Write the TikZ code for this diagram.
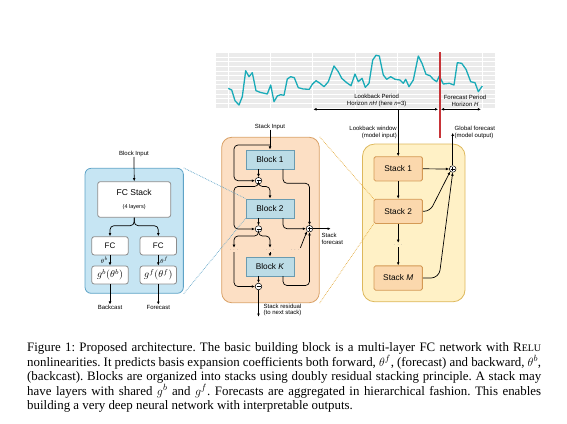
\documentclass[tikz,border=0pt]{standalone}
\usepackage{fontspec}
\setmainfont{Liberation Serif}
\newfontfamily\lsans{Liberation Sans}
\usetikzlibrary{arrows.meta}
\definecolor{bluecfill}{HTML}{C6E5F3}
\definecolor{bluecdraw}{HTML}{5EA3C7}
\definecolor{blkfill}{HTML}{BCDCE6}
\definecolor{blkdraw}{HTML}{6A9BB0}
\definecolor{orcfill}{HTML}{FCDFC4}
\definecolor{orcdraw}{HTML}{D9A065}
\definecolor{stkfill}{HTML}{FBD8AD}
\definecolor{stkdraw}{HTML}{D49A55}
\definecolor{yelfill}{HTML}{FFF1C6}
\definecolor{yeldraw}{HTML}{DDB85C}
\definecolor{yeldot}{HTML}{E3A93A}
\definecolor{tealc}{HTML}{1AABB8}
\definecolor{redvert}{rgb}{0.78,0.20,0.22}
\definecolor{chartbg}{HTML}{EBEBEB}
\begin{document}
\begin{tikzpicture}[x=1pt,y=-1pt,
  lbl/.style={font=\lsans\fontsize{6}{6.8}\selectfont, inner sep=0pt},
  arr/.style={-{Latex[length=3.2pt,width=2.8pt]}, line width=0.7pt},
  conn/.style={line width=0.7pt},
  bluecont/.style={draw=bluecdraw, fill=bluecfill, rounded corners=6pt, line width=0.8pt},
  whitebox/.style={draw=black!45, fill=white, rounded corners=2.5pt, line width=0.8pt, inner sep=0pt},
  bblock/.style={draw=blkdraw, fill=blkfill, line width=0.8pt, minimum width=48pt, minimum height=19pt, inner sep=0pt, font=\lsans\fontsize{8.3}{9}\selectfont},
  orcont/.style={draw=orcdraw, fill=orcfill, rounded corners=10pt, line width=0.8pt},
  ycont/.style={draw=yeldraw, fill=yelfill, rounded corners=12pt, line width=0.8pt},
  sbox/.style={draw=stkdraw, fill=stkfill, rounded corners=1.5pt, line width=0.8pt, minimum width=48.3pt, minimum height=24.3pt, inner sep=0pt, font=\lsans\fontsize{8.3}{9}\selectfont},
  dotsn/.style={font=\lsans\fontsize{6}{6}\selectfont, text=black!45, inner sep=0.5pt},
  minusc/.style={circle, draw, fill=white, inner sep=0pt, minimum size=6.6pt, line width=0.5pt,
    path picture={\draw[line width=0.5pt] ([xshift=-2pt]path picture bounding box.center) -- ([xshift=2pt]path picture bounding box.center);}},
  plusc/.style={circle, draw, fill=white, inner sep=0pt, minimum size=6.6pt, line width=0.5pt,
    path picture={\draw[line width=0.5pt] ([xshift=-2pt]path picture bounding box.center) -- ([xshift=2pt]path picture bounding box.center);
                  \draw[line width=0.5pt] ([yshift=-2pt]path picture bounding box.center) -- ([yshift=2pt]path picture bounding box.center);}},
]
\useasboundingbox (0,0) rectangle (567,423);

% ---------------- chart ----------------
\fill[chartbg] (216,52.7) rectangle (495,108.3);
\foreach \yy in {57,61.6,66.2,70.8,75.4,80,84.6,89.2,93.8,98.4,103}
  \draw[white, line width=0.6pt] (216,\yy) -- (495,\yy);
\foreach \xx in {228,270.3,312.6,354.9,397.2,481.8}
  \draw[white, line width=0.6pt] (\xx,52.7) -- (\xx,108.3);
\draw[tealc, line width=1.3pt, line join=round]
 (228.3,88.3) -- (231.7,90) -- (235,100.7) -- (239,105) -- (242.3,96.7) -- (245.7,70.7) -- (249,76.7) -- (252.3,72.7)
 -- (256,90.7) -- (260,92.3) -- (267.3,94) -- (270.7,85) -- (274,101.7) -- (277.3,96) -- (280.7,94.7) -- (284,95.3)
 -- (287.3,79) -- (290.7,76.7) -- (294.3,77.7) -- (298.3,87.7) -- (303.3,89) -- (309.3,89.3) -- (312.3,84.3) -- (316,80.7)
 -- (320,83.3) -- (324,86.7) -- (328.3,81.7) -- (334,66) -- (338.3,71.7) -- (341.7,78.3) -- (346.7,82.7) -- (351,85.7)
 -- (355,74) -- (358.3,81.7) -- (362,78.3) -- (365.3,87.3) -- (369,83.3) -- (372.7,60) -- (376,55.3) -- (379.3,56)
 -- (383.3,75) -- (386.7,79.3) -- (390.7,76.7) -- (395,79.3) -- (400,80) -- (403.3,83.3) -- (405.7,79.3) -- (409,86.7)
 -- (413.3,80) -- (418.3,56) -- (422,63.3) -- (426,74.3) -- (430,75.7) -- (433.3,79.3) -- (436.7,81.7) -- (439.3,76)
 -- (443.3,84) -- (449.3,83.3) -- (454,85) -- (457.3,62.7) -- (461.7,63.3) -- (466,69.3) -- (470.7,81.7) -- (475,82.7)
 -- (478.3,91.7) -- (482.3,86);
\node[lbl, align=center] (lbp) at (376.7,100.7) {Lookback Period\\Horizon \textit{nH} (here \textit{n}=3)};
\node[lbl, align=center] (fcp) at (465,100.7) {Forecast Period\\Horizon \textit{H}};
\coordinate (hl) at (313.3,109.3);
\coordinate (hr) at (438.2,109.3);
\coordinate (fl) at (440.8,109.3);
\coordinate (fr) at (481,109.3);
\coordinate (rt) at (439.5,52.2);
\coordinate (rb) at (439.5,137.5);
\fill[redvert] ([xshift=-1pt]rt) rectangle ([xshift=1pt]rb);
\draw[{Latex[length=3.2pt,width=2.8pt]}-{Latex[length=3.2pt,width=2.8pt]}, line width=0.7pt] (hl) -- (hr);
\draw[{Latex[length=3.2pt,width=2.8pt]}-{Latex[length=3.2pt,width=2.8pt]}, line width=0.7pt] (fl) -- (fr);

% ---------------- containers ----------------
\node[bluecont, minimum width=98.3pt, minimum height=125pt] (bluec) at (134.2,230.8) {};
\node[orcont, minimum width=97.6pt, minimum height=165.4pt] (orc) at (270.5,220) {};
\node[ycont, minimum width=102.5pt, minimum height=157.7pt] (yc) at (413.8,222.9) {};

% ---------------- block (left) ----------------
\node[lbl] (bin) at (134,154) {Block Input};
\node[whitebox, minimum width=73pt, minimum height=35.6pt, align=center] (fcs) at (134.2,199.5)
  {{\lsans\fontsize{8.5}{10}\selectfont FC Stack}\\[1pt]{\lsans\fontsize{5.5}{6}\selectfont (4 layers)}};
\node[whitebox, minimum width=36.5pt, minimum height=18.3pt, font=\lsans\fontsize{8}{9}\selectfont] (fcl) at (110,245.8) {FC};
\node[whitebox, minimum width=36.5pt, minimum height=18.3pt, font=\lsans\fontsize{8}{9}\selectfont] (fcr) at (158.3,245.8) {FC};
\node[whitebox, minimum width=36.5pt, minimum height=18pt, font=\fontsize{10}{10}\selectfont] (gl) at (110,275) {$g^b(\theta^b)$};
\node[whitebox, minimum width=36.5pt, minimum height=18pt, font=\fontsize{10}{10}\selectfont] (gr) at (158.3,275) {$g^f(\theta^f)$};
\node[lbl] (bc) at (110,307) {Backcast};
\node[lbl] (fc) at (158.3,307) {Forecast};
\draw[arr] (bin.south) -- (fcs.north);
\draw[arr, rounded corners=4pt] (fcs.south) -- ++(0,8) -| (fcl.north);
\draw[arr, rounded corners=4pt] (fcs.south) -- ++(0,8) -| (fcr.north);
\draw[arr] (fcl.south) -- node[left=1.5pt, font=\fontsize{6}{6}\selectfont, inner sep=0pt] {$\theta^b$} (gl.north);
\draw[arr] (fcr.south) -- node[right=1.5pt, font=\fontsize{6}{6}\selectfont, inner sep=0pt] {$\theta^f$} (gr.north);
\draw[arr] (gl.south) -- (bc.north);
\draw[arr] (gr.south) -- (fc.north);

% ---------------- stack (middle) ----------------
\node[lbl] (sin) at (270,126.7) {Stack Input};
\node[bblock] (b1) at (270,159.5) {Block 1};
\node[bblock] (b2) at (270,208.5) {Block 2};
\node[bblock] (bk) at (270,266.5) {Block \textit{K}};
\node[minusc] (m1) at (258.5,180.7) {};
\node[minusc] (m2) at (258.5,229) {};
\node[minusc] (mk) at (258.5,286.5) {};
\node[plusc] (p1) at (309.5,228.7) {};
\node[dotsn] (d1) at (234,250) {$\cdots$};
\node[dotsn] (d2) at (270,250) {$\cdots$};
\node[dotsn] (d3) at (295,250) {$\cdots$};
\node[lbl, align=left, anchor=north west] (sfc) at (321.5,233) {Stack\\forecast};
\node[lbl, align=left, anchor=north west] (srs) at (263.5,303.5) {Stack residual\\(to next stack)};
\coordinate (sj) at (270,145);
\coordinate (sfe) at (330.7,228.7);
\coordinate (sre) at (258.5,316.7);

\draw[arr] (sin.south) -- (b1.north);
\draw[arr, rounded corners=4pt] (sj) -- (234,145) -- (234,180.7) -- (m1.west);
\draw[arr] (m1 |- b1.south) -- (m1.north);
\draw[arr, rounded corners=4pt] (m1.south) -- (258.5,186.5) -- (270,186.5) -- (b2.north);
\draw[arr, rounded corners=4pt] (m1.south) -- (258.5,186.5) -- (234,186.5) -- (234,229) -- (m2.west);
\draw[arr, rounded corners=4pt] (283,169) -- (283,183.3) -- (309.5,183.3) -- (p1.north);
\draw[arr] (m2 |- b2.south) -- (m2.north);
\draw[arr, rounded corners=4pt] (283,218) -- (283,228.7) -- (p1.west);
\draw[arr, rounded corners=4pt] (m2.south) -- (258.5,236) -- (270,236) -- (d2.north);
\draw[arr, rounded corners=4pt] (m2.south) -- (258.5,236) -- (234,236) -- (d1.north);
\draw[arr] (d2.south) -- (bk.north);
\draw[arr, rounded corners=4pt] (d1.south) -- (234,286.5) -- (mk.west);
\draw[arr] (mk |- bk.south) -- (mk.north);
\draw[arr, rounded corners=4pt] (283,276) -- (283,285.5) -- (309.5,285.5) -- (p1.south);
\draw[arr] (d3.north east) -- (p1.south west);
\draw[arr] (p1.east) -- (sfe);
\draw[arr] (mk.south) -- (sre);

% ---------------- model (right) ----------------
\node[sbox] (s1) at (398.2,168.8) {Stack 1};
\node[sbox] (s2) at (398.2,211.3) {Stack 2};
\node[sbox] (sm) at (398.2,278) {Stack \textit{M}};
\node[dotsn] (ds) at (398.2,245) {$\cdots$};
\node[plusc] (p2) at (452.7,169) {};
\node[lbl, align=right, anchor=east] (lwin) at (397,132.5) {Lookback window\\(model input)};
\node[lbl, align=left, anchor=west] (gfc) at (454.5,132.5) {Global forecast\\(model output)};
\coordinate (lw) at (398.2,109.3);
\coordinate (gfe) at (452.7,132.7);
\draw[conn, -{Latex[length=3.2pt,width=2.8pt]}] (lw) -- (s1.north);
\draw[arr] (s1.south) -- (s2.north);
\draw[arr] (s2.south) -- (ds.north);
\draw[arr] (ds.south) -- (sm.north);
\draw[arr] (s1.east) -- (p2.west);
\draw[arr, rounded corners=6pt] (s2.east) -- (430,211.3) -- (p2.south west);
\draw[arr, rounded corners=8pt] (sm.east) -- (439,278) -- (p2.south);
\draw[arr] (p2.north) -- (gfe);

% ---------------- dotted zoom lines ----------------
\draw[bluecdraw, densely dotted, line width=0.7pt] (bluec.north east) -- (b2.north west);
\draw[bluecdraw, densely dotted, line width=0.7pt] (bluec.south east) -- (b2.south west);
\draw[yeldot, densely dotted, line width=0.7pt] (orc.north east) -- (s2.north west);
\draw[yeldot, densely dotted, line width=0.7pt] (orc.south east) -- (s2.south west);

% ---------------- caption ----------------
\node[anchor=north west, inner sep=0pt, text width=514pt, align=justify,
      font=\fontsize{12.9}{14.5}\selectfont] (cap) at (27,342.5)
 {\frenchspacing\hyphenpenalty=10000\tolerance=9999\emergencystretch=20pt
  Figure 1: Proposed architecture. The basic building block is a multi-layer FC network with R{\fontsize{10}{10}\selectfont ELU}\linebreak
  nonlinearities. It predicts basis expansion coefficients both forward, $\theta^f$, (forecast) and backward, $\theta^b$,\linebreak
  (backcast). Blocks are organized into stacks using doubly residual stacking principle. A stack may\linebreak
  have layers with shared $g^b$ and $g^f$. Forecasts are aggregated in hierarchical fashion. This enables\linebreak
  building a very deep neural network with interpretable outputs.};
\end{tikzpicture}
\end{document}
